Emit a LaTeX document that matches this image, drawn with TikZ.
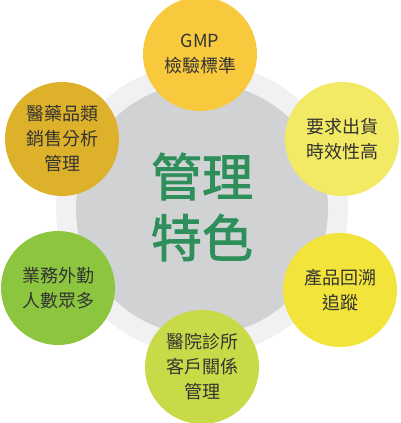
\documentclass[tikz,border=0pt]{standalone}
\usepackage{fontspec}
\setmainfont{Noto Sans CJK TC}
\newfontfamily\cjkbold{Noto Sans CJK TC}[FakeBold=1.8]
\definecolor{ringc}{HTML}{F1F1F3}
\definecolor{grayc}{HTML}{D1D2D4}
\definecolor{ctop}{HTML}{F8C93C}
\definecolor{cul}{HTML}{DDB12A}
\definecolor{cur}{HTML}{F2E964}
\definecolor{cll}{HTML}{8CC63F}
\definecolor{clr}{HTML}{F2E43B}
\definecolor{cbot}{HTML}{C8DA48}
\definecolor{txt}{HTML}{333333}
\definecolor{greent}{HTML}{2F8F5B}
\begin{document}
\begin{tikzpicture}[x=1pt,y=-1pt,
  sat/.style={circle,minimum size=114pt,inner sep=0pt,align=center,text=txt,
    font=\fontsize{18}{25}\selectfont}]
\useasboundingbox (0,0) rectangle (400,423);
\fill[white] (0,0) rectangle (400,423);
\node[circle,fill=ringc,minimum size=292pt,inner sep=0pt] (ring) at (202,209) {};
\node[circle,fill=grayc,minimum size=252pt,inner sep=0pt] (core) at (202,209) {};
\node[text=greent,align=center,inner sep=0pt,
  font=\cjkbold\fontsize{51}{61}\selectfont] (title) at (202,207) {管理\\特色};
\node[sat,fill=ctop] (gmp) at (200,54) {GMP\\檢驗標準};
\node[sat,fill=cul] (ul) at (62,139) {醫藥品類\\銷售分析\\管理};
\node[sat,fill=cur] (ur) at (342,139) {要求出貨\\時效性高};
\node[sat,fill=cll] (ll) at (58,288) {業務外勤\\人數眾多};
\node[sat,fill=clr] (lr) at (340,290) {產品回溯\\追蹤};
\node[sat,fill=cbot] (bot) at (202,367) {醫院診所\\客戶關係\\管理};
\end{tikzpicture}
\end{document}
